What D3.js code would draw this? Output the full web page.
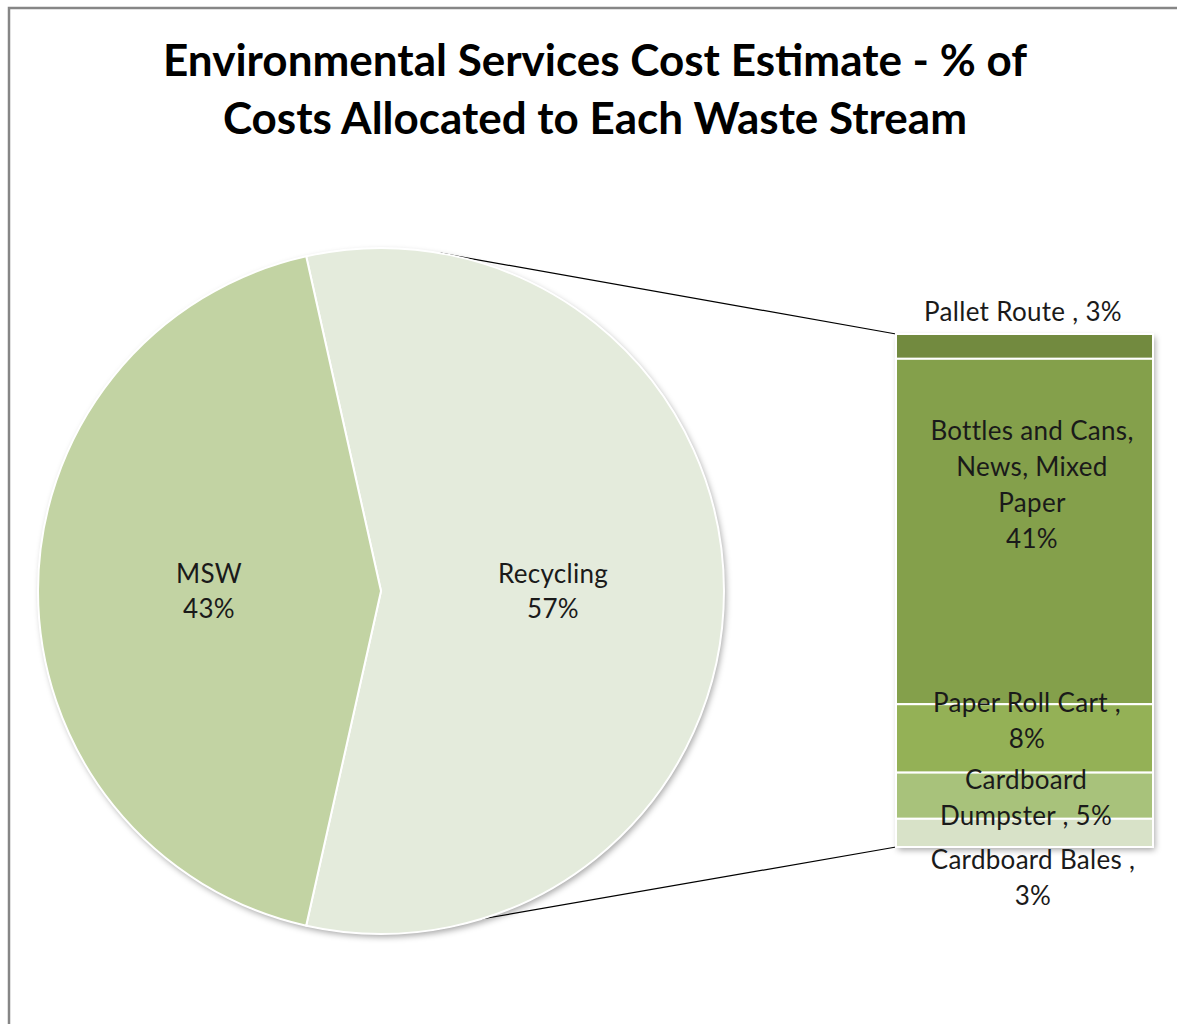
<!DOCTYPE html>
<html><head><meta charset="utf-8">
<script src="https://cdn.jsdelivr.net/npm/d3@7"></script>
<style>
html,body{margin:0;padding:0;background:#fff;}
svg{display:block;}
text{font-family:Lato,"Open Sans",sans-serif;}
</style></head><body>
<svg id="c" width="1177" height="1024"></svg>
<script>
const titleLines = ["Environmental Services Cost Estimate - % of", "Costs Allocated to Each Waste Stream"];
const pieCategories = ["Recycling", "MSW"];
const pieValues = [57, 43];
const pieColors = ["#e4ebdc", "#c2d3a3"];
const barCategories = ["Pallet Route", "Bottles and Cans, News, Mixed Paper", "Paper Roll Cart", "Cardboard Dumpster", "Cardboard Bales"];
const barValues = [2.9, 40.4, 8.0, 5.4, 3.3];
const barColors = ["#728a3f", "#84a04b", "#94b156", "#a8c27b", "#d8e2c8"];
const barLabelLines = [["Pallet Route , 3%"], ["Bottles and Cans,", "News, Mixed", "Paper", "41%"], ["Paper Roll Cart ,", "8%"], ["Cardboard", "Dumpster , 5%"], ["Cardboard Bales ,", "3%"]];
const pieLabelLines = [["Recycling", "57%"], ["MSW", "43%"]];

const svg = d3.select("#c");
const defs = svg.append("defs");
const f = defs.append("filter").attr("id","sh").attr("x","-10%").attr("y","-10%").attr("width","130%").attr("height","130%");
f.append("feDropShadow").attr("dx",2).attr("dy",3).attr("stdDeviation",3).attr("flood-color","#000").attr("flood-opacity",0.35);

// chart border
svg.append("path").attr("d","M9,1024 V8 H1177").attr("fill","none").attr("stroke","#868686").attr("stroke-width",2.5);

// title
svg.append("g").selectAll("text").data(titleLines).join("text")
  .attr("x",595).attr("y",(d,i)=>76+i*58).attr("text-anchor","middle")
  .attr("font-size",44).attr("font-weight","bold").attr("fill","#000").text(d=>d);

const cx = 381, cy = 591, R = 343;
const bx0 = 896, bx1 = 1153;
const yBar = d3.scaleLinear().domain([0, d3.sum(barValues)]).range([334, 847]);

// connector lines (behind pie)
const angTop = 10*Math.PI/180, angBot = 163*Math.PI/180;
const lineG = svg.append("g");
lineG.append("line").attr("x1",cx+R*Math.sin(angTop)).attr("y1",cy-R*Math.cos(angTop)).attr("x2",bx0).attr("y2",yBar.range()[0]).attr("stroke","#000").attr("stroke-width",1.2);
lineG.append("line").attr("x1",cx+R*Math.sin(angBot)).attr("y1",cy-R*Math.cos(angBot)).attr("x2",bx0).attr("y2",yBar.range()[1]).attr("stroke","#000").attr("stroke-width",1.2);

// pie
const share = pieValues[0]/d3.sum(pieValues)*2*Math.PI;
const pie = d3.pie().sort(null).value(d=>d).startAngle(Math.PI/2 - share/2).endAngle(Math.PI/2 - share/2 + 2*Math.PI);
const arcs = pie(pieValues);
const arc = d3.arc().innerRadius(0).outerRadius(R);
const pg = svg.append("g").attr("transform",`translate(${cx},${cy})`);
pg.append("circle").attr("r",R).attr("fill","#fff").attr("filter","url(#sh)");
pg.selectAll("path").data(arcs).join("path").attr("d",arc).attr("fill",(d,i)=>pieColors[i])
  .attr("stroke","#fff").attr("stroke-width",2).attr("stroke-linejoin","round");

// pie labels
const labelPos = [[553-cx, 574-cy], [209-cx, 574-cy]];
pieLabelLines.forEach((lines,i)=>{
  pg.append("text").attr("text-anchor","middle").attr("font-size",26).attr("letter-spacing",0.3).attr("fill","#1a1a1a")
    .selectAll("tspan").data(lines).join("tspan").attr("x",labelPos[i][0]).attr("y",(d,j)=>labelPos[i][1]+9+j*35).text(d=>d);
});

// bar
let cum = 0;
const stack = barValues.map(v=>{const s={y0:cum,y1:cum+v}; cum+=v; return s;});
const bg = svg.append("g");
bg.append("rect").attr("x",bx0).attr("y",yBar(0)).attr("width",bx1-bx0).attr("height",yBar(cum)-yBar(0)).attr("fill","#fff").attr("filter","url(#sh)");
bg.selectAll("rect.seg").data(stack).join("rect").attr("class","seg")
  .attr("x",bx0).attr("y",d=>yBar(d.y0)).attr("width",bx1-bx0).attr("height",d=>yBar(d.y1)-yBar(d.y0))
  .attr("fill",(d,i)=>barColors[i]).attr("stroke","#fff").attr("stroke-width",2);

// bar labels (center y of first line)
const barLabelY = [312, 431, 703, 780, 860];
const barLabelX = [1023, 1032, 1027, 1026, 1033];
barLabelLines.forEach((lines,i)=>{
  bg.append("text").attr("text-anchor","middle").attr("font-size",26).attr("letter-spacing",0.3).attr("fill","#1a1a1a")
    .selectAll("tspan").data(lines).join("tspan").attr("x",barLabelX[i]).attr("y",(d,j)=>barLabelY[i]+9+j*36).text(d=>d);
});
</script>
</body></html>
